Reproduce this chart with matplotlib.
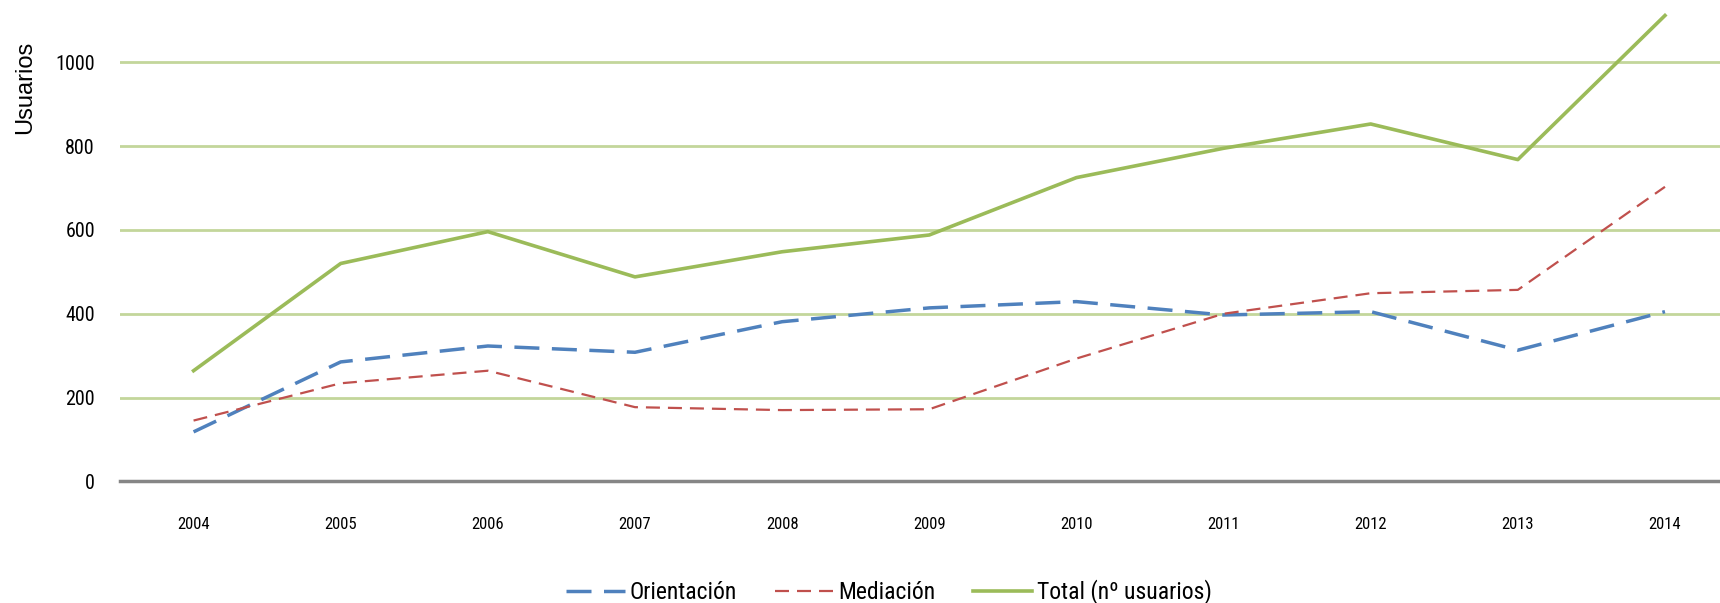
import matplotlib
matplotlib.use("Agg")
import matplotlib.pyplot as plt

years = ["2004", "2005", "2006", "2007", "2008", "2009", "2010", "2011", "2012", "2013", "2014"]
orientacion = [118, 285, 323, 308, 381, 414, 429, 397, 405, 313, 405]
mediacion = [145, 234, 264, 177, 170, 172, 293, 400, 449, 457, 703]
total = [264, 520, 596, 488, 548, 588, 725, 795, 853, 768, 1112]
yticks = [0, 200, 400, 600, 800, 1000]

narrow = ["Roboto Condensed", "DejaVu Sans"]

fig = plt.figure(figsize=(17.2, 6.03), dpi=100)
ax = fig.add_axes([120 / 1720, 1 - 481.3 / 603, 1 - 120 / 1720, 481.3 / 603])

x = list(range(len(years)))
ax.plot(x, orientacion, color="#4f81bd", lw=2.5, dashes=(7.2, 3.6), label="Orientación")
ax.plot(x, mediacion, color="#c0504d", lw=1.6, dashes=(6.3, 3.6), label="Mediación")
ax.plot(x, total, color="#9bbb59", lw=2.6, label="Total (nº usuarios)")

ax.set_xlim(-0.5, 10.374)
ax.set_ylim(0, 1149)
ax.set_yticks(yticks)
ax.set_xticks(x)
ax.set_xticklabels(years, family=narrow, fontsize=12)
ax.set_yticklabels([str(v) for v in yticks], family=narrow, fontsize=14.5)
ax.tick_params(length=0)
ax.tick_params(axis="x", pad=26)
ax.tick_params(axis="y", pad=18)
ax.grid(axis="y", color="#c3d69b", lw=2)
ax.set_axisbelow(True)
for side in ["left", "right", "top"]:
    ax.spines[side].set_visible(False)
ax.spines["bottom"].set_color("#868686")
ax.spines["bottom"].set_linewidth(2.5)
ax.spines["bottom"].set_zorder(3)

fig.text(25 / 1720, 1 - 87 / 603, "Usuarios", rotation=90, ha="center", va="center",
         fontsize=17, family="Liberation Sans")

fig.legend(loc="center", bbox_to_anchor=(889 / 1720, 1 - 592 / 603), ncol=3, frameon=False,
           prop={"family": narrow, "size": 17}, handlelength=2.5, columnspacing=1.6,
           handletextpad=0.2)

fig.savefig("out.png", dpi=100)
